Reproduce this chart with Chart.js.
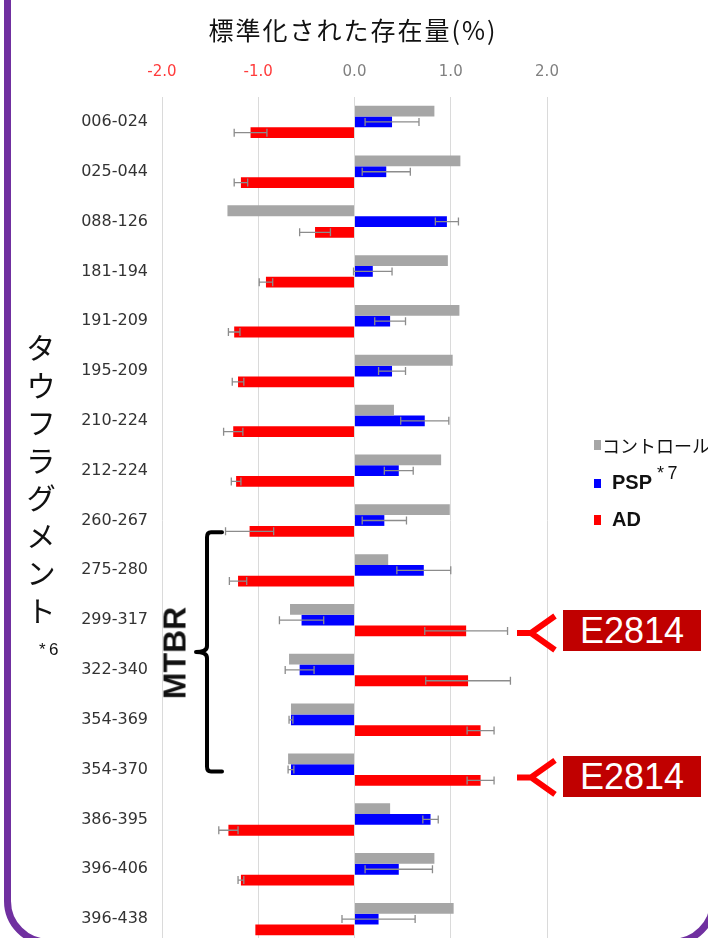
<!DOCTYPE html>
<html>
<head>
<meta charset="utf-8">
<script src="https://cdn.jsdelivr.net/npm/chart.js@4.4.1/dist/chart.umd.min.js"></script>
<style>
  html, body { margin: 0; padding: 0; background: #fff; overflow: hidden; }
  #page { position: relative; width: 708px; height: 938px; overflow: hidden; }
  #chart { position: absolute; left: 0; top: 0; }
  .frame {
    position: absolute; left: 4px; top: -60px; width: 713px; height: 1006px;
    box-sizing: border-box; border: 7px solid #7030a0; border-radius: 45px;
  }
  .ov { position: absolute; white-space: nowrap; color: #111; }
  .title { left: 0; width: 706px; top: 11px; text-align: center; font: 25px "Noto Sans CJK JP"; letter-spacing: 2px; }
  .vtext { left: 24px; top: 333px; writing-mode: vertical-rl; text-orientation: upright; font: 30px "Noto Sans CJK JP"; letter-spacing: 7.5px; line-height: 34px; }
  .note6 { left: 39px; top: 640px; font: 17px "Liberation Sans"; }
  .mtbr { left: 175px; top: 653px; font: bold 32px "Liberation Sans"; transform: translate(-50%, -50%) rotate(-90deg); }
  .sw { position: absolute; width: 7px; }
  .leg { font: 18px "Noto Sans CJK JP"; }
  .legb { font: bold 20px "Liberation Sans"; }
  .tag { position: absolute; left: 563px; width: 138px; height: 41px; background: #c00000; color: #fff;
         font: 36px "Liberation Sans"; line-height: 42px; text-align: center; }
</style>
</head>
<body>
<div id="page">
  <canvas id="chart" width="708" height="950"></canvas>
  <div class="ov title">標準化された存在量(%)</div>
  <div class="ov vtext">タウフラグメント</div>
  <div class="ov note6">*&thinsp;6</div>
  <div class="ov mtbr">MTBR</div>

  <div class="sw" style="left:594px; top:440px; height:10px; background:#a6a6a6"></div>
  <div class="ov leg" style="left:602px; top:432px">コントロール</div>
  <div class="sw" style="left:594px; top:479px; height:9px; background:#0000ff"></div>
  <div class="ov legb" style="left:612px; top:471px">PSP</div>
  <div class="ov" style="left:657px; top:463px; font:18px 'Liberation Sans'">*&thinsp;7</div>
  <div class="sw" style="left:594px; top:515px; height:10px; background:#ff0000"></div>
  <div class="ov legb" style="left:612px; top:508px">AD</div>

  <div class="tag" style="top:610px">E2814</div>
  <div class="tag" style="top:756px">E2814</div>
  <div class="frame"></div>
</div>
<script>
// tau fragments (rows, top to bottom)
const fragments = ["006-024", "025-044", "088-126", "181-194", "191-209", "195-209", "210-224", "212-224",
  "260-267", "275-280", "299-317", "322-340", "354-369", "354-370", "386-395", "396-406", "396-438"];

// normalized abundance (%)
const controlVals = [0.83, 1.10, -1.32, 0.97, 1.09, 1.02, 0.41, 0.90, 0.99, 0.35, -0.67, -0.68, -0.66, -0.69, 0.37, 0.83, 1.03];
const pspVals = [0.39, 0.33, 0.96, 0.19, 0.37, 0.39, 0.73, 0.46, 0.31, 0.72, -0.55, -0.57, -0.66, -0.66, 0.79, 0.46, 0.25];
const pspErr = [0.28, 0.25, 0.12, 0.20, 0.16, 0.14, 0.25, 0.15, 0.23, 0.28, 0.23, 0.15, 0.02, 0.03, 0.08, 0.35, 0.38];
const adVals = [-1.08, -1.18, -0.41, -0.92, -1.25, -1.21, -1.26, -1.23, -1.09, -1.21, 1.16, 1.18, 1.31, 1.31, -1.31, -1.18, -1.03];
const adErr = [0.17, 0.07, 0.16, 0.07, 0.06, 0.06, 0.10, 0.05, 0.25, 0.09, 0.43, 0.44, 0.14, 0.14, 0.10, 0.03, 0];

// axis ticks
const xTicks = [-2, -1, 0, 1, 2];

// whiskers drawn from the x scale
const errorBars = {
  id: "errorBars",
  afterDatasetsDraw(chart) {
    const ctx = chart.ctx;
    const xs = chart.scales.x;
    chart.data.datasets.forEach((ds, di) => {
      if (!ds.errors) return;
      chart.getDatasetMeta(di).data.forEach((bar, i) => {
        const e = ds.errors[i];
        if (!e) return;
        const x1 = xs.getPixelForValue(ds.data[i] - e);
        const x2 = xs.getPixelForValue(ds.data[i] + e);
        const y = bar.y;
        ctx.save();
        ctx.strokeStyle = "#8c8c8c";
        ctx.lineWidth = 1.3;
        ctx.beginPath();
        ctx.moveTo(x1, y); ctx.lineTo(x2, y);
        ctx.moveTo(x1, y - 4); ctx.lineTo(x1, y + 4);
        ctx.moveTo(x2, y - 4); ctx.lineTo(x2, y + 4);
        ctx.stroke();
        ctx.restore();
      });
    });
  }
};

// MTBR bracket and the two E2814 pointers
const marks = {
  id: "marks",
  afterDraw(chart) {
    const ctx = chart.ctx;
    const red = chart.getDatasetMeta(2).data;
    const blue = chart.getDatasetMeta(1).data;
    const top = red[8].y + 1;
    const bot = blue[13].y + 2;
    const mid = (top + bot) / 2;
    const bx = 207;
    ctx.save();
    ctx.strokeStyle = "#000";
    ctx.lineWidth = 4;
    ctx.lineCap = "round";
    ctx.lineJoin = "round";
    ctx.beginPath();
    ctx.moveTo(222, top);
    ctx.lineTo(bx + 4, top);
    ctx.quadraticCurveTo(bx, top, bx, top + 5);
    ctx.lineTo(bx, mid - 6);
    ctx.quadraticCurveTo(bx, mid, bx - 11, mid);
    ctx.quadraticCurveTo(bx, mid, bx, mid + 6);
    ctx.lineTo(bx, bot - 5);
    ctx.quadraticCurveTo(bx, bot, bx + 4, bot);
    ctx.lineTo(222, bot);
    ctx.stroke();

    ctx.strokeStyle = "#ff0000";
    ctx.lineWidth = 6;
    ctx.lineCap = "butt";
    [red[10].y + 2, red[13].y - 3].forEach(y => {
      ctx.beginPath();
      ctx.moveTo(517, y);
      ctx.lineTo(531, y);
      ctx.moveTo(555, y - 17);
      ctx.lineTo(531, y);
      ctx.lineTo(555, y + 17);
      ctx.stroke();
    });
    ctx.restore();
  }
};

new Chart(document.getElementById("chart"), {
  type: "bar",
  data: {
    labels: fragments,
    datasets: [
      { label: "コントロール", data: controlVals, backgroundColor: "#a6a6a6" },
      { label: "PSP", data: pspVals, errors: pspErr, backgroundColor: "#0000ff" },
      { label: "AD", data: adVals, errors: adErr, backgroundColor: "#ff0000" }
    ]
  },
  options: {
    indexAxis: "y",
    responsive: false,
    animation: false,
    devicePixelRatio: 1,
    datasets: { bar: { barPercentage: 1, categoryPercentage: 0.65 } },
    layout: { padding: { left: 0, right: 161, top: 0, bottom: 6 } },
    plugins: { legend: { display: false }, tooltip: { enabled: false } },
    scales: {
      x: {
        position: "top",
        min: xTicks[0],
        max: xTicks[xTicks.length - 1],
        afterBuildTicks: s => { s.ticks = xTicks.map(v => ({ value: v })); },
        afterFit: s => { s.height = 97; },
        ticks: {
          callback: v => v.toFixed(1),
          color: c => (c.tick && c.tick.value < 0 ? "#ff3b3b" : "#808080"),
          font: { family: "DejaVu Sans", size: 15 },
          padding: 16
        },
        grid: { color: "#dadada", drawTicks: false },
        border: { display: false }
      },
      y: {
        afterFit: s => { s.width = 162; s.paddingTop = 0; s.paddingBottom = 0; },
        ticks: { color: "#333", font: { family: "DejaVu Sans", size: 16 }, padding: 14 },
        grid: { display: false, drawTicks: false },
        border: { display: false }
      }
    }
  },
  plugins: [errorBars, marks]
});
</script>
</body>
</html>
